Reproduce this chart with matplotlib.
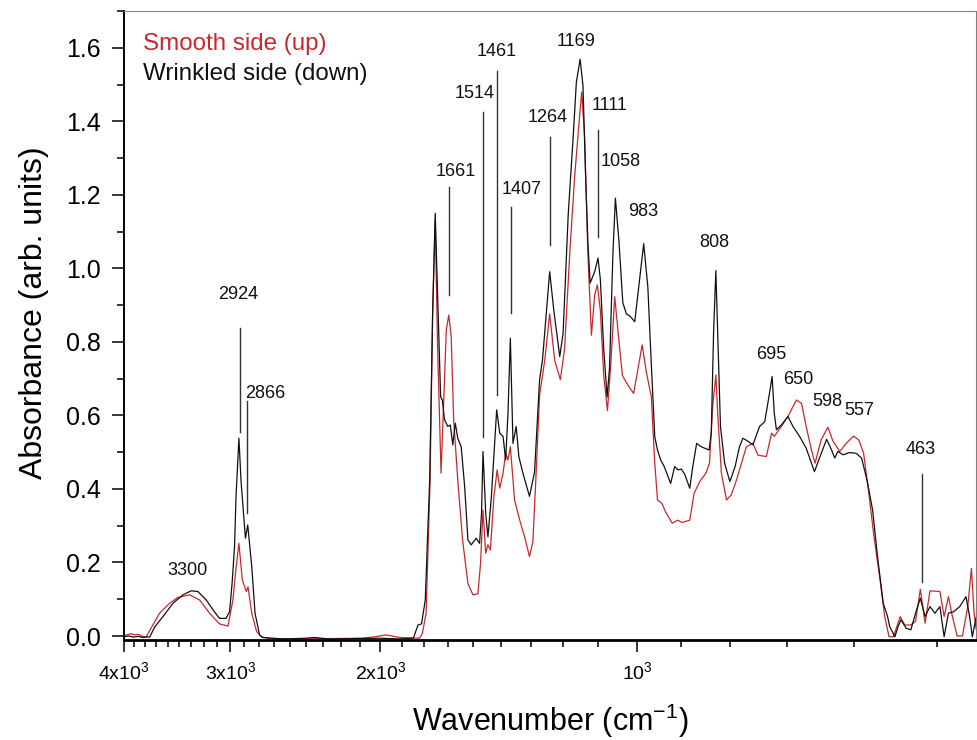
import numpy as np
import matplotlib
matplotlib.use("Agg")
import matplotlib.pyplot as plt
from matplotlib.ticker import FixedLocator, FixedFormatter, MultipleLocator, NullFormatter

plt.rcParams['font.family'] = ['Liberation Sans', 'DejaVu Sans']
plt.rcParams['mathtext.fontset'] = 'custom'
plt.rcParams['mathtext.rm'] = 'Liberation Sans'
plt.rcParams['mathtext.it'] = 'Liberation Sans:italic'
plt.rcParams['mathtext.bf'] = 'Liberation Sans:bold'

# Wrinkled side (down) - black curve
wn_down = [4000, 3950, 3900, 3850, 3800, 3760, 3732, 3680, 3600, 3504, 3411, 3335, 3276, 3203,
           3133, 3090, 3036, 3007, 2985, 2967, 2955, 2932, 2915, 2881, 2863, 2832, 2807, 2773,
           2750, 2600, 2450, 2390, 2300, 2150, 2000, 1900, 1830, 1807, 1790, 1772, 1751, 1737,
           1725, 1712, 1700, 1692, 1682, 1667, 1656, 1645, 1634, 1623, 1608, 1593, 1579, 1565,
           1544, 1530, 1522, 1516, 1505, 1496, 1482, 1461, 1449, 1436, 1426, 1417, 1408, 1398,
           1386, 1376, 1361, 1337, 1319, 1301, 1291, 1277, 1266, 1252, 1232, 1221, 1204, 1188,
           1178, 1166, 1157, 1149, 1142, 1135, 1121, 1111, 1104, 1094, 1084, 1077, 1067, 1060,
           1050, 1039, 1029, 1020, 1006, 993, 982, 971, 962, 953, 946, 938, 929, 913, 903, 895,
           887, 879, 867, 860, 851, 841, 823, 818, 813, 808, 803, 798, 789, 778, 767, 758, 751,
           740, 731, 718, 708, 699, 694, 690, 686, 677, 665, 656, 644, 633, 624, 619, 610, 599,
           591, 586, 581, 573, 563, 553, 545, 537, 529, 522, 514, 508, 505, 498, 494, 490, 483,
           477, 471, 465, 459, 453, 447, 441, 436, 431, 425, 418, 411, 407, 404, 400]
abs_down = [-0.002, 0.0, -0.003, -0.001, -0.004, -0.002, -0.003, 0.025, 0.053, 0.089, 0.112, 0.123,
            0.121, 0.098, 0.066, 0.048, 0.048, 0.066, 0.15, 0.243, 0.379, 0.538, 0.42, 0.266,
            0.302, 0.189, 0.062, 0.003, -0.004, -0.008, -0.006, -0.004, -0.008, -0.007, -0.006,
            -0.008, -0.006, 0.03, 0.033, 0.098, 0.424, 0.878, 1.150, 0.896, 0.651, 0.642, 0.588,
            0.570, 0.574, 0.520, 0.579, 0.538, 0.515, 0.406, 0.261, 0.248, 0.266, 0.252, 0.334,
            0.502, 0.334, 0.270, 0.379, 0.615, 0.552, 0.543, 0.479, 0.606, 0.810, 0.524, 0.570,
            0.488, 0.443, 0.380, 0.445, 0.697, 0.750, 0.886, 0.991, 0.886, 0.760, 0.823, 1.149,
            1.359, 1.506, 1.569, 1.496, 1.254, 1.075, 0.960, 0.991, 1.028, 0.970, 0.781, 0.650,
            0.729, 1.044, 1.191, 1.075, 0.907, 0.876, 0.871, 0.855, 0.970, 1.067, 0.949, 0.74,
            0.542, 0.506, 0.479, 0.461, 0.415, 0.461, 0.452, 0.454, 0.440, 0.402, 0.461, 0.524,
            0.515, 0.506, 0.552, 0.824, 0.994, 0.778, 0.570, 0.470, 0.420, 0.461, 0.515, 0.538,
            0.529, 0.520, 0.570, 0.583, 0.660, 0.706, 0.606, 0.561, 0.574, 0.597, 0.570, 0.542,
            0.511, 0.470, 0.447, 0.487, 0.535, 0.506, 0.484, 0.502, 0.493, 0.499, 0.497, 0.484,
            0.424, 0.343, 0.216, 0.089, 0.053, 0.025, -0.002, 0.025, 0.044, 0.021, 0.017, 0.062,
            0.103, 0.053, 0.080, 0.062, 0.080, -0.002, 0.062, 0.066, 0.080, 0.107, 0.053, -0.002,
            0.05]

# Smooth side (up) - red curve
wn_up = [4000, 3960, 3920, 3880, 3850, 3800, 3767, 3700, 3633, 3536, 3457, 3350, 3261, 3174, 3090,
         3020, 2980, 2958, 2932, 2905, 2874, 2861, 2832, 2795, 2760, 2700, 2500, 2300, 2100, 2030,
         1970, 1900, 1800, 1786, 1768, 1749, 1737, 1725, 1714, 1698, 1688, 1674, 1663, 1652, 1641,
         1623, 1602, 1579, 1558, 1537, 1526, 1516, 1505, 1496, 1486, 1472, 1459, 1449, 1436, 1426,
         1417, 1408, 1392, 1373, 1355, 1337, 1325, 1315, 1301, 1283, 1266, 1249, 1230, 1216, 1199,
         1183, 1168, 1161, 1152, 1142, 1131, 1121, 1113, 1104, 1094, 1083, 1074, 1062, 1052, 1040,
         1024, 1009, 997, 986, 975, 962, 953, 946, 935, 924, 909, 896, 885, 867, 857, 844, 830,
         822, 815, 808, 804, 796, 785, 775, 764, 754, 744, 731, 721, 705, 695, 690, 677, 665, 650,
         641, 633, 624, 618, 608, 597, 589, 578, 568, 557, 549, 542, 535, 527, 519, 512, 506, 500,
         491, 485, 477, 471, 465, 459, 453, 441, 436, 431, 427, 421, 415, 409, 405, 402, 400]
abs_up = [0.0, 0.004, 0.006, 0.003, 0.005, -0.002, -0.002, 0.03, 0.062, 0.089, 0.105, 0.112, 0.098,
          0.062, 0.033, 0.027, 0.098, 0.175, 0.252, 0.152, 0.121, 0.134, 0.062, 0.012, -0.002,
          -0.007, -0.008, -0.007, -0.006, -0.002, 0.003, -0.004, -0.006, 0.007, 0.062, 0.424,
          0.878, 1.132, 0.787, 0.443, 0.606, 0.833, 0.873, 0.815, 0.588, 0.424, 0.261, 0.143,
          0.112, 0.115, 0.198, 0.343, 0.225, 0.248, 0.234, 0.379, 0.452, 0.402, 0.443, 0.497,
          0.479, 0.515, 0.370, 0.316, 0.270, 0.216, 0.256, 0.414, 0.655, 0.750, 0.876, 0.750,
          0.697, 0.781, 1.044, 1.254, 1.412, 1.480, 1.359, 1.044, 0.818, 0.928, 0.955, 0.886,
          0.708, 0.613, 0.729, 0.923, 0.823, 0.708, 0.681, 0.660, 0.729, 0.792, 0.718, 0.651,
          0.470, 0.370, 0.361, 0.334, 0.307, 0.315, 0.309, 0.315, 0.388, 0.420, 0.443, 0.470,
          0.624, 0.710, 0.606, 0.443, 0.370, 0.384, 0.425, 0.470, 0.515, 0.524, 0.492, 0.488,
          0.552, 0.543, 0.570, 0.597, 0.642, 0.633, 0.570, 0.506, 0.470, 0.533, 0.568, 0.531,
          0.502, 0.524, 0.544, 0.533, 0.497, 0.397, 0.270, 0.161, 0.053, -0.002, -0.002, 0.053,
          0.03, 0.03, 0.04, 0.127, 0.035, 0.123, 0.121, 0.053, 0.107, 0.06, 0.0, 0.0, 0.08, 0.184,
          0.06, 0.02]

# peak marker lines
line_wn = [2924, 2866, 1661, 1514, 1461, 1407, 1264, 1111, 463]
line_top = [0.838, 0.638, 1.222, 1.424, 1.536, 1.168, 1.356, 1.377, 0.441]
line_bottom = [0.555, 0.334, 0.928, 0.542, 0.656, 0.878, 1.064, 1.085, 0.148]

# peak labels
label_text = ['3300', '2924', '2866', '1661', '1514', '1461', '1407', '1264', '1169', '1111',
              '1058', '983', '808', '695', '650', '598', '557', '463']
label_wn = [3365, 2940, 2729, 1632, 1551, 1459, 1367, 1272, 1178, 1077, 1046, 982, 811, 695,
            647, 598, 548, 465]
label_y = [0.178, 0.928, 0.659, 1.263, 1.477, 1.589, 1.214, 1.410, 1.616, 1.443, 1.291, 1.155,
           1.070, 0.767, 0.697, 0.639, 0.613, 0.506]

red = '#c8282d'

fig = plt.figure(figsize=(9.77, 7.40), dpi=100)
ax = fig.add_axes([0.1269, 0.1358, 0.8721, 0.8493])

ax.plot(wn_up, abs_up, color=red, lw=0.9)
ax.plot(wn_down, abs_down, color='#111111', lw=0.9)

for x, y1, y2 in zip(line_wn, line_bottom, line_top):
    ax.plot([x, x], [y1, y2], color='#333333', lw=1.0)

for t, x, y in zip(label_text, label_wn, label_y):
    ax.text(x, y, t, fontsize=13, ha='center', va='center', color='#111111')

ax.text(0.0223, 0.947, 'Smooth side (up)', color=red, fontsize=17.4,
        transform=ax.transAxes, va='center', ha='left')
ax.text(0.0223, 0.900, 'Wrinkled side (down)', color='#111111', fontsize=17.4,
        transform=ax.transAxes, va='center', ha='left')

ax.set_xscale('log')
ax.set_xlim(4000, 400)
ax.set_ylim(-0.0095, 1.70)

major_x = [4000, 3000, 2000, 1000]
ax.xaxis.set_major_locator(FixedLocator(major_x))
ax.xaxis.set_major_formatter(FixedFormatter([r'4x10$^3$', r'3x10$^3$', r'2x10$^3$', r'10$^3$']))
minor_x = []
for base in [3000, 2000, 1000, 0]:
    for k in range(1, 9):
        v = base + k * 1000 / 9
        if 400 <= v <= 4000:
            minor_x.append(v)
ax.xaxis.set_minor_locator(FixedLocator(minor_x))
ax.xaxis.set_minor_formatter(NullFormatter())

ax.yaxis.set_major_locator(MultipleLocator(0.2))
ax.yaxis.set_minor_locator(MultipleLocator(0.1))
ax.yaxis.set_major_formatter(plt.FuncFormatter(lambda v, p: '%.1f' % v))

ax.tick_params(axis='both', which='major', direction='out', length=8.6, width=1.1)
ax.tick_params(axis='both', which='minor', direction='out', length=5, width=1.1)
ax.tick_params(axis='y', which='major', labelsize=18, pad=8)
ax.tick_params(axis='x', which='major', labelsize=14, pad=7)
ax.tick_params(top=False, right=False, which='both')

ax.spines['left'].set_linewidth(1.4)
ax.spines['bottom'].set_linewidth(2.0)
for s in ['top', 'right']:
    ax.spines[s].set_linewidth(0.8)
    ax.spines[s].set_color('#808080')

ax.set_xlabel('Wavenumber (cm$^{-1}$)', fontsize=22)
ax.set_ylabel('Absorbance (arb. units)', fontsize=23)
ax.xaxis.set_label_coords(0.5, -0.099)
ax.yaxis.set_label_coords(-0.088, 0.52)

fig.savefig('out.png', dpi=100)
